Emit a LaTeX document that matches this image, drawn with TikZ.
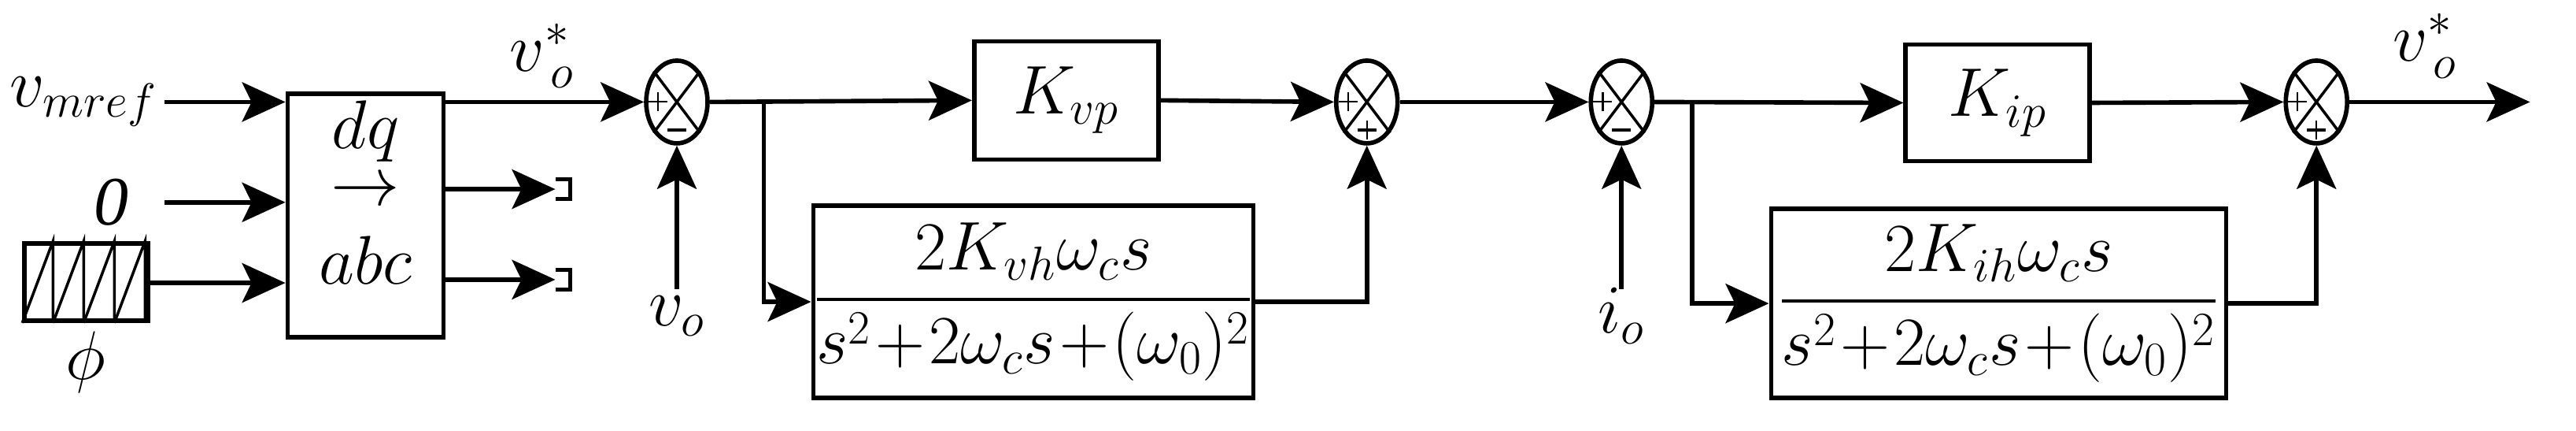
\documentclass[tikz,border=0pt]{standalone}
\usepackage{amsmath}
\usepackage{fontspec}
\setmainfont{Liberation Serif}
\usetikzlibrary{shapes.geometric,arrows.meta}
\begin{document}
\begin{tikzpicture}[x=0.02087cm,y=-0.02087cm,
  line width=1.6pt,
  arr/.style={-{Stealth[length=0.55cm,width=0.5cm,inset=0.12cm]}},
  box/.style={draw,line width=1.6pt,rectangle,inner sep=0pt},
  sum/.style={draw,ellipse,line width=1.6pt,minimum width=0.78cm,minimum height=1.05cm,inner sep=0pt},
  lbl/.style={font=\fontsize{25}{30}\selectfont,inner sep=0pt}]
\useasboundingbox (0,0) rectangle (1568,262);
% blocks
\node[box,minimum width=1.98cm,minimum height=3.09cm] (dq) at (222.5,131) {};
\node[lbl] (tdq) at (222.5,80) {$dq$};
\node[lbl] (tar) at (222.5,117) {$\rightarrow$};
\node[lbl] (tabc) at (222.5,158) {$abc$};
\node[box,minimum width=2.34cm,minimum height=1.50cm,lbl] (kvp) at (649,61) {$K_{vp}$};
\node[box,minimum width=4.97cm,minimum height=2.44cm,lbl] (h1) at (629,183.5) {$\dfrac{2K_{vh}\omega_c s}{s^2\!+\!2\omega_c s\!+\!(\omega_0)^2}$};
\node[box,minimum width=2.34cm,minimum height=1.48cm,lbl] (kip) at (1216,62.5) {$K_{ip}$};
\node[box,minimum width=5.78cm,minimum height=2.40cm,lbl] (h2) at (1216.5,184.5) {$\dfrac{2K_{ih}\omega_c s}{s^2\!+\!2\omega_c s\!+\!(\omega_0)^2}$};
% sums
\foreach \n/\x/\s in {s1/412/0,s2/832/1,s3/987/0,s4/1410/1}{
  \node[sum] (\n) at (\x,62) {};
  \draw[line width=1pt] (\n.north west) -- (\n.south east) (\n.north east) -- (\n.south west);
  % left plus
  \draw[line width=0.6pt] ([xshift=0.06cm]\n.west) -- ([xshift=0.3cm]\n.west)
        ([xshift=0.18cm,yshift=0.12cm]\n.west) -- ([xshift=0.18cm,yshift=-0.12cm]\n.west);
  % bottom sign
  \draw[line width=1.2pt] ([xshift=-0.12cm,yshift=0.2cm]\n.south) -- ([xshift=0.12cm,yshift=0.2cm]\n.south);
  \ifnum\s=1
    \draw[line width=0.6pt] ([yshift=0.08cm]\n.south) -- ([yshift=0.32cm]\n.south);
  \fi
}
% inputs
\node[lbl,anchor=east] (vm) at (97,62) {$v_{mref}$};
\node[lbl] (zero) at (68,123) {\textit{0}};
\node[box,minimum width=1.57cm,minimum height=0.98cm] (saw) at (52.5,171.5) {};
\foreach \i in {0,1,2,3}{
  \draw[line width=1pt] ([xshift=\i*0.39cm]saw.south west) -- ([xshift=\i*0.39cm+0.39cm]saw.north west) -- ([xshift=\i*0.39cm+0.39cm]saw.south west);
}
\node[lbl] (phi) at (52,220) {$\phi$};
\coordinate (i1) at (100,62);
\coordinate (i2) at (100,123);
\draw[arr] (i1) -- (i1 -| dq.west);
\draw[arr] (i2) -- (i2 -| dq.west);
\draw[arr] (saw.east |- 0,172) -- (dq.west |- 0,172);
% outputs of dq
\draw[arr] (dq.east |- 0,62) -- (s1.west);
\node[lbl] (vs1) at (330,34) {$v^{*}_{\,o}$};
\foreach \y/\n in {115/t1,170/t2}{
  \coordinate (\n) at (338,\y);
  \draw[arr] (dq.east |- 0,\y) -- (\n);
  \draw[line width=1.4pt] (338,\y-6) -- (347,\y-6) -- (347,\y+6) -- (338,\y+6);
}
% first loop
\node[lbl] (vo) at (412,192) {$v_o$};
\coordinate (vo0) at (412,176);
\draw[arr] (vo0) -- (s1.south);
\coordinate (b1) at (465,62);
\draw[arr] (s1.east) -- (kvp.west);
\draw[arr] (b1) |- (h1.west);
\draw[arr] (kvp.east) -- (s2.west);
\draw[arr] (h1.east) -| (s2.south);
\draw[arr] (s2.east) -- (s3.west);
% second loop
\node[lbl] (io) at (987,192) {$i_o$};
\coordinate (io0) at (987,176);
\draw[arr] (io0) -- (s3.south);
\coordinate (b2) at (1030,62);
\draw[arr] (s3.east) -- (kip.west);
\draw[arr] (b2) |- (h2.west);
\draw[arr] (kip.east) -- (s4.west);
\draw[arr] (h2.east) -| (s4.south);
\coordinate (out) at (1540,62);
\draw[arr] (s4.east) -- (out);
\node[lbl] (vs2) at (1476,28) {$v^{*}_{\,o}$};
\end{tikzpicture}
\end{document}
